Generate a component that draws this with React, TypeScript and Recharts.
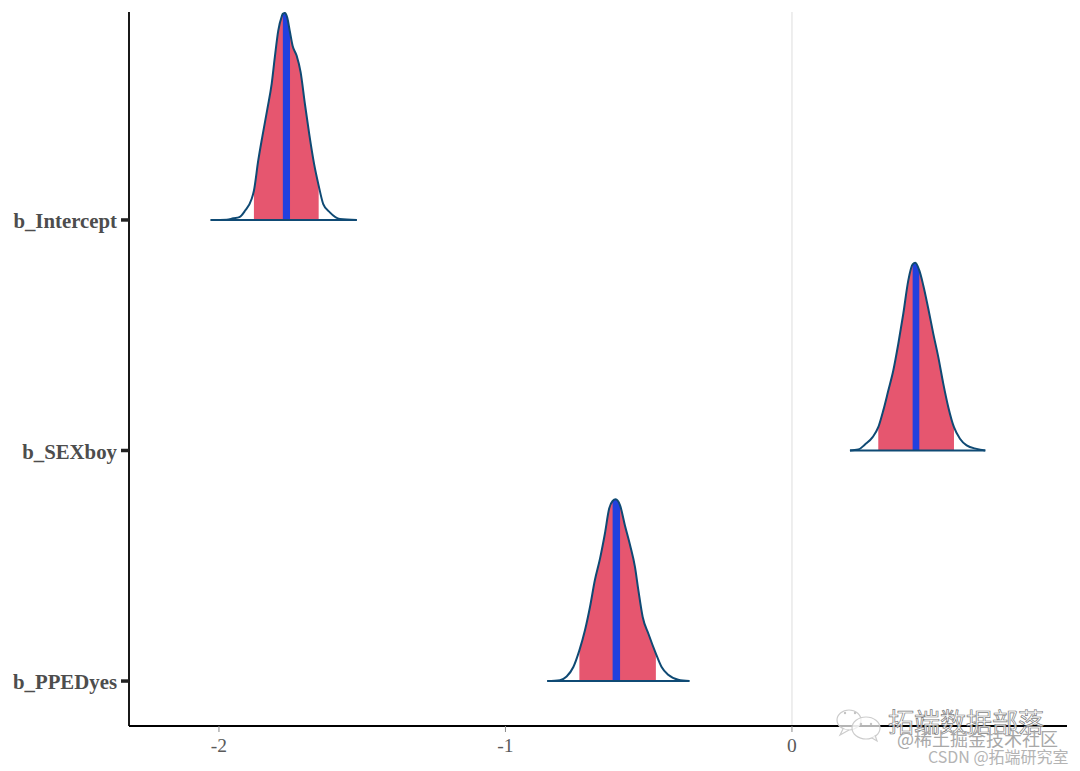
import React from "react";
import { ComposedChart, Area, XAxis, YAxis, ReferenceLine } from "recharts";

const parameters = ["b_PPEDyes", "b_SEXboy", "b_Intercept"];
const xTicks = [-2, -1, 0];
const yTicks = [1, 2, 3];

const interceptX = [-2.029, -1.973, -1.95, -1.929, -1.909, -1.886, -1.878, -1.863, -1.848, -1.831, -1.816, -1.805, -1.793, -1.781, -1.777, -1.77, -1.762, -1.752, -1.743, -1.729, -1.715, -1.7, -1.685, -1.668, -1.652, -1.636, -1.613, -1.578, -1.519];
const interceptH = [0, 0.001, 0.007, 0.012, 0.04, 0.091, 0.127, 0.257, 0.366, 0.482, 0.59, 0.706, 0.821, 0.882, 0.894, 0.898, 0.879, 0.814, 0.756, 0.713, 0.641, 0.503, 0.373, 0.243, 0.149, 0.069, 0.033, 0.004, 0];
const interceptCI = [-1.878, -1.652];
const interceptMid = [-1.777, -1.752];

const sexX = [0.2024, 0.2315, 0.2548, 0.2816, 0.3013, 0.3188, 0.3363, 0.3537, 0.3712, 0.3886, 0.4061, 0.4212, 0.4305, 0.4445, 0.4584, 0.4759, 0.4934, 0.5108, 0.5283, 0.5457, 0.5655, 0.5864, 0.6097, 0.6446, 0.6748];
const sexH = [0, 0.004, 0.026, 0.058, 0.101, 0.174, 0.26, 0.347, 0.463, 0.593, 0.738, 0.807, 0.814, 0.781, 0.716, 0.615, 0.506, 0.405, 0.289, 0.188, 0.101, 0.051, 0.022, 0.007, 0];
const sexCI = [0.3013, 0.5655];
const sexMid = [0.4212, 0.4445];

const ppedX = [-0.854, -0.81, -0.7865, -0.763, -0.742, -0.7225, -0.705, -0.688, -0.67, -0.653, -0.638, -0.626, -0.6155, -0.6, -0.583, -0.565, -0.548, -0.536, -0.521, -0.501, -0.475, -0.455, -0.432, -0.397, -0.358];
const ppedH = [0, 0.004, 0.02, 0.061, 0.133, 0.22, 0.321, 0.437, 0.531, 0.639, 0.748, 0.781, 0.788, 0.762, 0.675, 0.589, 0.495, 0.393, 0.278, 0.205, 0.119, 0.061, 0.027, 0.006, 0];
const ppedCI = [-0.742, -0.475];
const ppedMid = [-0.626, -0.6];

const SERIF = "'Liberation Serif', 'Times New Roman', serif";
const FILL_RED = "#e6566f";
const FILL_BLUE = "#2140de";
const OUTLINE = "#0f4a74";

type Row = { x: number; band: [number, number] };

const buildRows = (xs: number[], hs: number[], row: number): Row[] =>
  xs.map((x, i) => ({ x, band: [row, row + hs[i]] as [number, number] }));

const within = (rows: Row[], range: number[]) =>
  rows.filter((r) => r.x >= range[0] && r.x <= range[1]);

const densities = [
  { key: "intercept", rows: buildRows(interceptX, interceptH, 3), ci: interceptCI, mid: interceptMid },
  { key: "sex", rows: buildRows(sexX, sexH, 2), ci: sexCI, mid: sexMid },
  { key: "pped", rows: buildRows(ppedX, ppedH, 1), ci: ppedCI, mid: ppedMid },
];

const Watermark = () => (
  <svg
    width={1080}
    height={771}
    style={{ position: "absolute", left: 0, top: 0, pointerEvents: "none" }}
  >
    <g fill="#ffffff" fillOpacity={0.7} stroke="#cccccc" strokeWidth={1.2}>
      <ellipse cx={849} cy={720} rx={12} ry={10} />
      <path d="M843 729 L840 735 L849 730" />
      <ellipse cx={866} cy={728} rx={14} ry={11} />
      <path d="M872 738 L877 741 L875 735" />
    </g>
    <g fill="#c4c4c4">
      <circle cx={845} cy={713} r={1.2} />
      <circle cx={855} cy={713} r={1.2} />
      <circle cx={861} cy={724} r={1.2} />
      <circle cx={871} cy={724} r={1.2} />
    </g>
    <text x={888} y={732} fontFamily="'Noto Sans CJK SC'" fontSize={26} fill="#ffffff" fillOpacity={0.8} stroke="#7d7d7d" strokeWidth={0.7}>
      拓端数据部落
    </text>
    <text x={897} y={746} fontFamily="'Noto Sans CJK SC'" fontSize={18} fill="#a8a8a8">
      @稀土掘金技术社区
    </text>
    <text x={928} y={763} fontFamily="'Noto Sans CJK SC'" fontSize={16} fill="#b4b4b4">
      CSDN @拓端研究室
    </text>
  </svg>
);

export default function App() {
  return (
    <div style={{ position: "absolute", left: 0, top: 0, width: 1080, height: 771, background: "#fff" }}>
      <ComposedChart width={1080} height={771} margin={{ top: 12, right: 13, bottom: 0, left: 0 }}>
        <XAxis
          type="number"
          dataKey="x"
          domain={[-2.314, 0.96]}
          ticks={xTicks}
          height={45}
          allowDataOverflow
          tickSize={6}
          tickMargin={6}
          axisLine={{ stroke: "#000", strokeWidth: 1.8 }}
          tickLine={{ stroke: "#8a8a8a", strokeWidth: 1 }}
          tick={{ fontFamily: SERIF, fontSize: 19.5, fill: "#5a5a5a" }}
        />
        <YAxis
          type="number"
          domain={[0.805, 3.902]}
          ticks={yTicks}
          width={129}
          allowDataOverflow
          tickSize={8}
          tickMargin={4}
          tickFormatter={(v: number) => parameters[v - 1]}
          axisLine={{ stroke: "#000", strokeWidth: 1.8 }}
          tickLine={{ stroke: "#222", strokeWidth: 3.5 }}
          tick={{ fontFamily: SERIF, fontSize: 20.8, fontWeight: 700, fill: "#4d4d4d", dy: 1 }}
        />
        <ReferenceLine x={0} stroke="#e3e3e3" strokeWidth={1.2} />
        {densities.map((d) => (
          <Area
            key={d.key + "-ci"}
            data={within(d.rows, d.ci)}
            dataKey="band"
            type="monotone"
            stroke="none"
            fill={FILL_RED}
            fillOpacity={1}
            dot={false}
            activeDot={false}
            isAnimationActive={false}
          />
        ))}
        {densities.map((d) => (
          <Area
            key={d.key + "-mid"}
            data={within(d.rows, d.mid)}
            dataKey="band"
            type="monotone"
            stroke="none"
            fill={FILL_BLUE}
            fillOpacity={1}
            dot={false}
            activeDot={false}
            isAnimationActive={false}
          />
        ))}
        {densities.map((d) => (
          <Area
            key={d.key + "-outline"}
            data={d.rows}
            dataKey="band"
            type="monotone"
            stroke={OUTLINE}
            strokeWidth={2}
            fill="none"
            dot={false}
            activeDot={false}
            isAnimationActive={false}
          />
        ))}
      </ComposedChart>
      <Watermark />
    </div>
  );
}
